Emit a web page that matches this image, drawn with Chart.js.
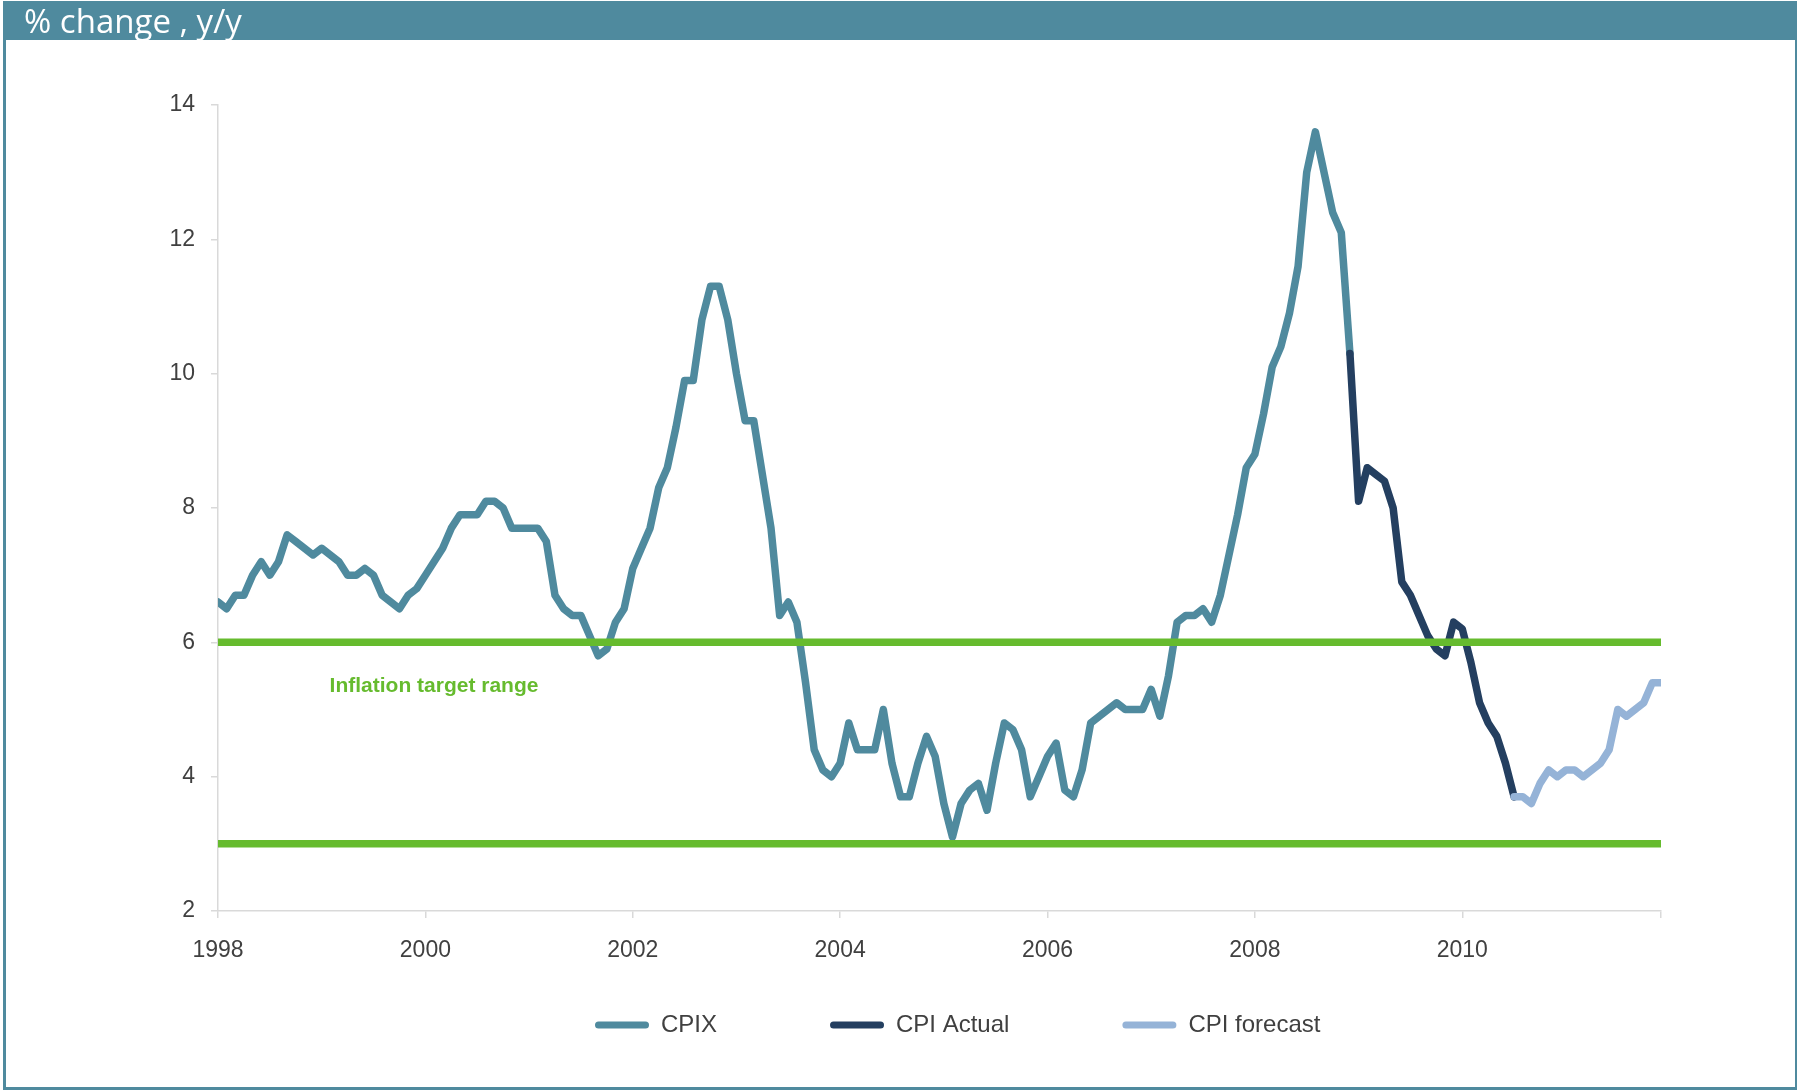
<!DOCTYPE html>
<html lang="en">
<head>
<meta charset="UTF-8">
<title>CPIX and CPI inflation</title>
<script src="https://cdn.jsdelivr.net/npm/chart.js@4.4.0/dist/chart.umd.min.js"></script>
<style>
  html, body { margin: 0; padding: 0; background: #fff; overflow: hidden; }
  #chart { position: absolute; left: 0; top: 0; }
  #frame {
    position: absolute; left: 3px; top: 1px; width: 1794px; height: 1089px;
    box-sizing: border-box;
    border-left: 3px solid #4f8a9e; border-right: 2px solid #4f8a9e; border-bottom: 3px solid #4f8a9e;
    pointer-events: none;
  }
  #titlebar {
    position: absolute; left: 3px; top: 1px; width: 1794px; height: 39px;
    background: #4f8a9e; color: #fff;
    font-family: "Open Sans", "Noto Sans", sans-serif; font-size: 33px; line-height: 40px;
    padding-left: 21px; box-sizing: border-box; white-space: nowrap;
  }
</style>
</head>
<body>
<canvas id="chart" width="1797" height="1090"></canvas>
<div id="frame"></div>
<div id="titlebar">% change , y/y</div>
<script>
// monthly y/y inflation, Jan 1998 - Dec 2011
const startYear = 1998;
const endYear = 2011;
const months = [];
for (let yr = startYear; yr <= endYear; yr++) {
  for (let m = 1; m <= 12; m++) months.push(yr + '-' + String(m).padStart(2, '0'));
}
const yearTicks = [1998, 2000, 2002, 2004, 2006, 2008, 2010];
const yTicks = [2, 4, 6, 8, 10, 12, 14];

// CPIX, Jan 1998 - Dec 2008
const cpix = [
  6.6, 6.5, 6.7, 6.7, 7.0, 7.2, 7.0, 7.2, 7.6, 7.5, 7.4, 7.3,
  7.4, 7.3, 7.2, 7.0, 7.0, 7.1, 7.0, 6.7, 6.6, 6.5, 6.7, 6.8,
  7.0, 7.2, 7.4, 7.7, 7.9, 7.9, 7.9, 8.1, 8.1, 8.0, 7.7, 7.7,
  7.7, 7.7, 7.5, 6.7, 6.5, 6.4, 6.4, 6.1, 5.8, 5.9, 6.3, 6.5,
  7.1, 7.4, 7.7, 8.3, 8.6, 9.2, 9.9, 9.9, 10.8, 11.3, 11.3, 10.8,
  10.0, 9.3, 9.3, 8.5, 7.7, 6.4, 6.6, 6.3, 5.4, 4.4, 4.1, 4.0,
  4.2, 4.8, 4.4, 4.4, 4.4, 5.0, 4.2, 3.7, 3.7, 4.2, 4.6, 4.3,
  3.6, 3.1, 3.6, 3.8, 3.9, 3.5, 4.2, 4.8, 4.7, 4.4, 3.7, 4.0,
  4.3, 4.5, 3.8, 3.7, 4.1, 4.8, 4.9, 5.0, 5.1, 5.0, 5.0, 5.0,
  5.3, 4.9, 5.5, 6.3, 6.4, 6.4, 6.5, 6.3, 6.7, 7.3, 7.9, 8.6,
  8.8, 9.4, 10.1, 10.4, 10.9, 11.6, 13.0, 13.6, 13.0, 12.4, 12.1, 10.3
];
// CPI actual, Dec 2008 - Jul 2010
const cpiActualStart = '2008-12';
const cpiActual = [
  10.3, 8.1, 8.6, 8.5, 8.4, 8.0, 6.9, 6.7, 6.4, 6.1, 5.9, 5.8,
  6.3, 6.2, 5.7, 5.1, 4.8, 4.6, 4.2, 3.7
];
// CPI forecast, Jul 2010 - Dec 2011
const cpiForecastStart = '2010-07';
const cpiForecast = [
  3.7, 3.7, 3.6, 3.9, 4.1, 4.0, 4.1, 4.1, 4.0, 4.1, 4.2, 4.4,
  5.0, 4.9, 5.0, 5.1, 5.4, 5.4
];
// inflation target band (lower, upper)
const targetRange = [3, 6];

const colors = {
  cpix: '#4f8a9e',
  actual: '#243f60',
  forecast: '#95b3d7',
  target: '#66bb2e',
  text: '#404040',
  axis: '#d9d9d9'
};

function toPoints(values, startLabel) {
  const first = months.indexOf(startLabel);
  return values.map((v, k) => ({ x: first + k, y: v }));
}

const lastMonth = months.length - 1;

function seriesLine(label, data, color, order) {
  return {
    label: label, data: data, order: order, showInLegend: true,
    borderColor: color, backgroundColor: color, borderWidth: 7.5,
    borderCapStyle: 'round', borderJoinStyle: 'round',
    pointRadius: 0, pointHoverRadius: 0, tension: 0
  };
}

function targetLine(level) {
  return {
    label: 'target ' + level,
    data: [{ x: 0, y: level }, { x: lastMonth, y: level }],
    order: 0, showInLegend: false,
    borderColor: colors.target, borderWidth: 7.5, borderCapStyle: 'round',
    pointRadius: 0, pointHoverRadius: 0
  };
}

// caption inside the target band
const rangeLabel = {
  id: 'rangeLabel',
  afterDatasetsDraw(chart, args, opts) {
    const { ctx, scales } = chart;
    ctx.save();
    ctx.font = 'bold 21px "Liberation Sans", Arial, sans-serif';
    ctx.fillStyle = opts.color;
    ctx.textAlign = 'center';
    ctx.textBaseline = 'middle';
    ctx.fillText(opts.text, scales.x.getPixelForValue(opts.atMonth), scales.y.getPixelForValue(opts.atValue));
    ctx.restore();
  }
};

// put the legend row where it belongs below the axis labels
const legendPlacement = {
  id: 'legendPlacement',
  afterLayout(chart, args, opts) {
    const lg = chart.legend;
    if (!lg || !lg.lineWidths) return;
    const pad = lg.options.labels.padding;
    const itemH = lg.options.labels.font.size;
    lg.top = opts.textY - pad - itemH / 2;
    lg.bottom = opts.textY + itemH / 2 + 10;
    lg.height = lg.bottom - lg.top;
    const cursorX = (lg.left + pad + lg.right - lg.lineWidths[0]) / 2;
    const dx = opts.startX - cursorX;
    lg.left += dx;
    lg.right += dx;
  }
};

Chart.defaults.font.family = '"Liberation Sans", Arial, sans-serif';
Chart.defaults.color = colors.text;

new Chart(document.getElementById('chart'), {
  type: 'line',
  data: {
    datasets: [
      seriesLine('CPIX', toPoints(cpix, months[0]), colors.cpix, 3),
      seriesLine('CPI Actual', toPoints(cpiActual, cpiActualStart), colors.actual, 2),
      seriesLine('CPI forecast', toPoints(cpiForecast, cpiForecastStart), colors.forecast, 1),
      targetLine(targetRange[1]),
      targetLine(targetRange[0])
    ]
  },
  options: {
    responsive: false,
    animation: false,
    events: [],
    layout: { padding: { left: 0, right: 136, top: 105, bottom: 79 } },
    scales: {
      x: {
        type: 'linear',
        min: 0,
        max: lastMonth,
        afterBuildTicks(axis) {
          const t = yearTicks.map(yr => ({ value: (yr - startYear) * 12 }));
          t.push({ value: lastMonth });
          axis.ticks = t;
        },
        afterFit(axis) { axis.height = 60; },
        ticks: {
          autoSkip: false,
          maxRotation: 0,
          padding: 19,
          font: { size: 23 },
          color: colors.text,
          callback: v => (v % 12 === 0 ? String(startYear + v / 12) : '')
        },
        grid: { drawOnChartArea: false, drawTicks: true, tickLength: 7, color: colors.axis, lineWidth: 1.5 },
        border: { display: true, color: colors.axis, width: 1.5 }
      },
      y: {
        min: yTicks[0],
        max: yTicks[yTicks.length - 1],
        afterBuildTicks(axis) { axis.ticks = yTicks.map(v => ({ value: v })); },
        afterFit(axis) { axis.width = 218; },
        ticks: { padding: 16, font: { size: 23 }, color: colors.text },
        grid: { drawOnChartArea: false, drawTicks: true, tickLength: 7, color: colors.axis, lineWidth: 1.5 },
        border: { display: true, color: colors.axis, width: 1.5 }
      }
    },
    plugins: {
      tooltip: { enabled: false },
      title: { display: false },
      legend: {
        position: 'bottom',
        maxHeight: 40,
        labels: {
          padding: 113,
          boxWidth: 54,
          boxHeight: 7,
          font: { size: 24 },
          color: colors.text,
          generateLabels(chart) {
            return chart.data.datasets
              .map((ds, i) => ({ ds, i }))
              .filter(o => o.ds.showInLegend)
              .map(o => ({
                text: o.ds.label,
                fillStyle: o.ds.borderColor,
                strokeStyle: o.ds.borderColor,
                lineWidth: 0,
                borderRadius: 3.5,
                fontColor: colors.text,
                hidden: false,
                datasetIndex: o.i
              }));
          }
        }
      },
      legendPlacement: { textY: 1025, startX: 595 },
      rangeLabel: { text: 'Inflation target range', color: colors.target, atMonth: 25, atValue: 5.35 }
    }
  },
  plugins: [rangeLabel, legendPlacement]
});
</script>
</body>
</html>
